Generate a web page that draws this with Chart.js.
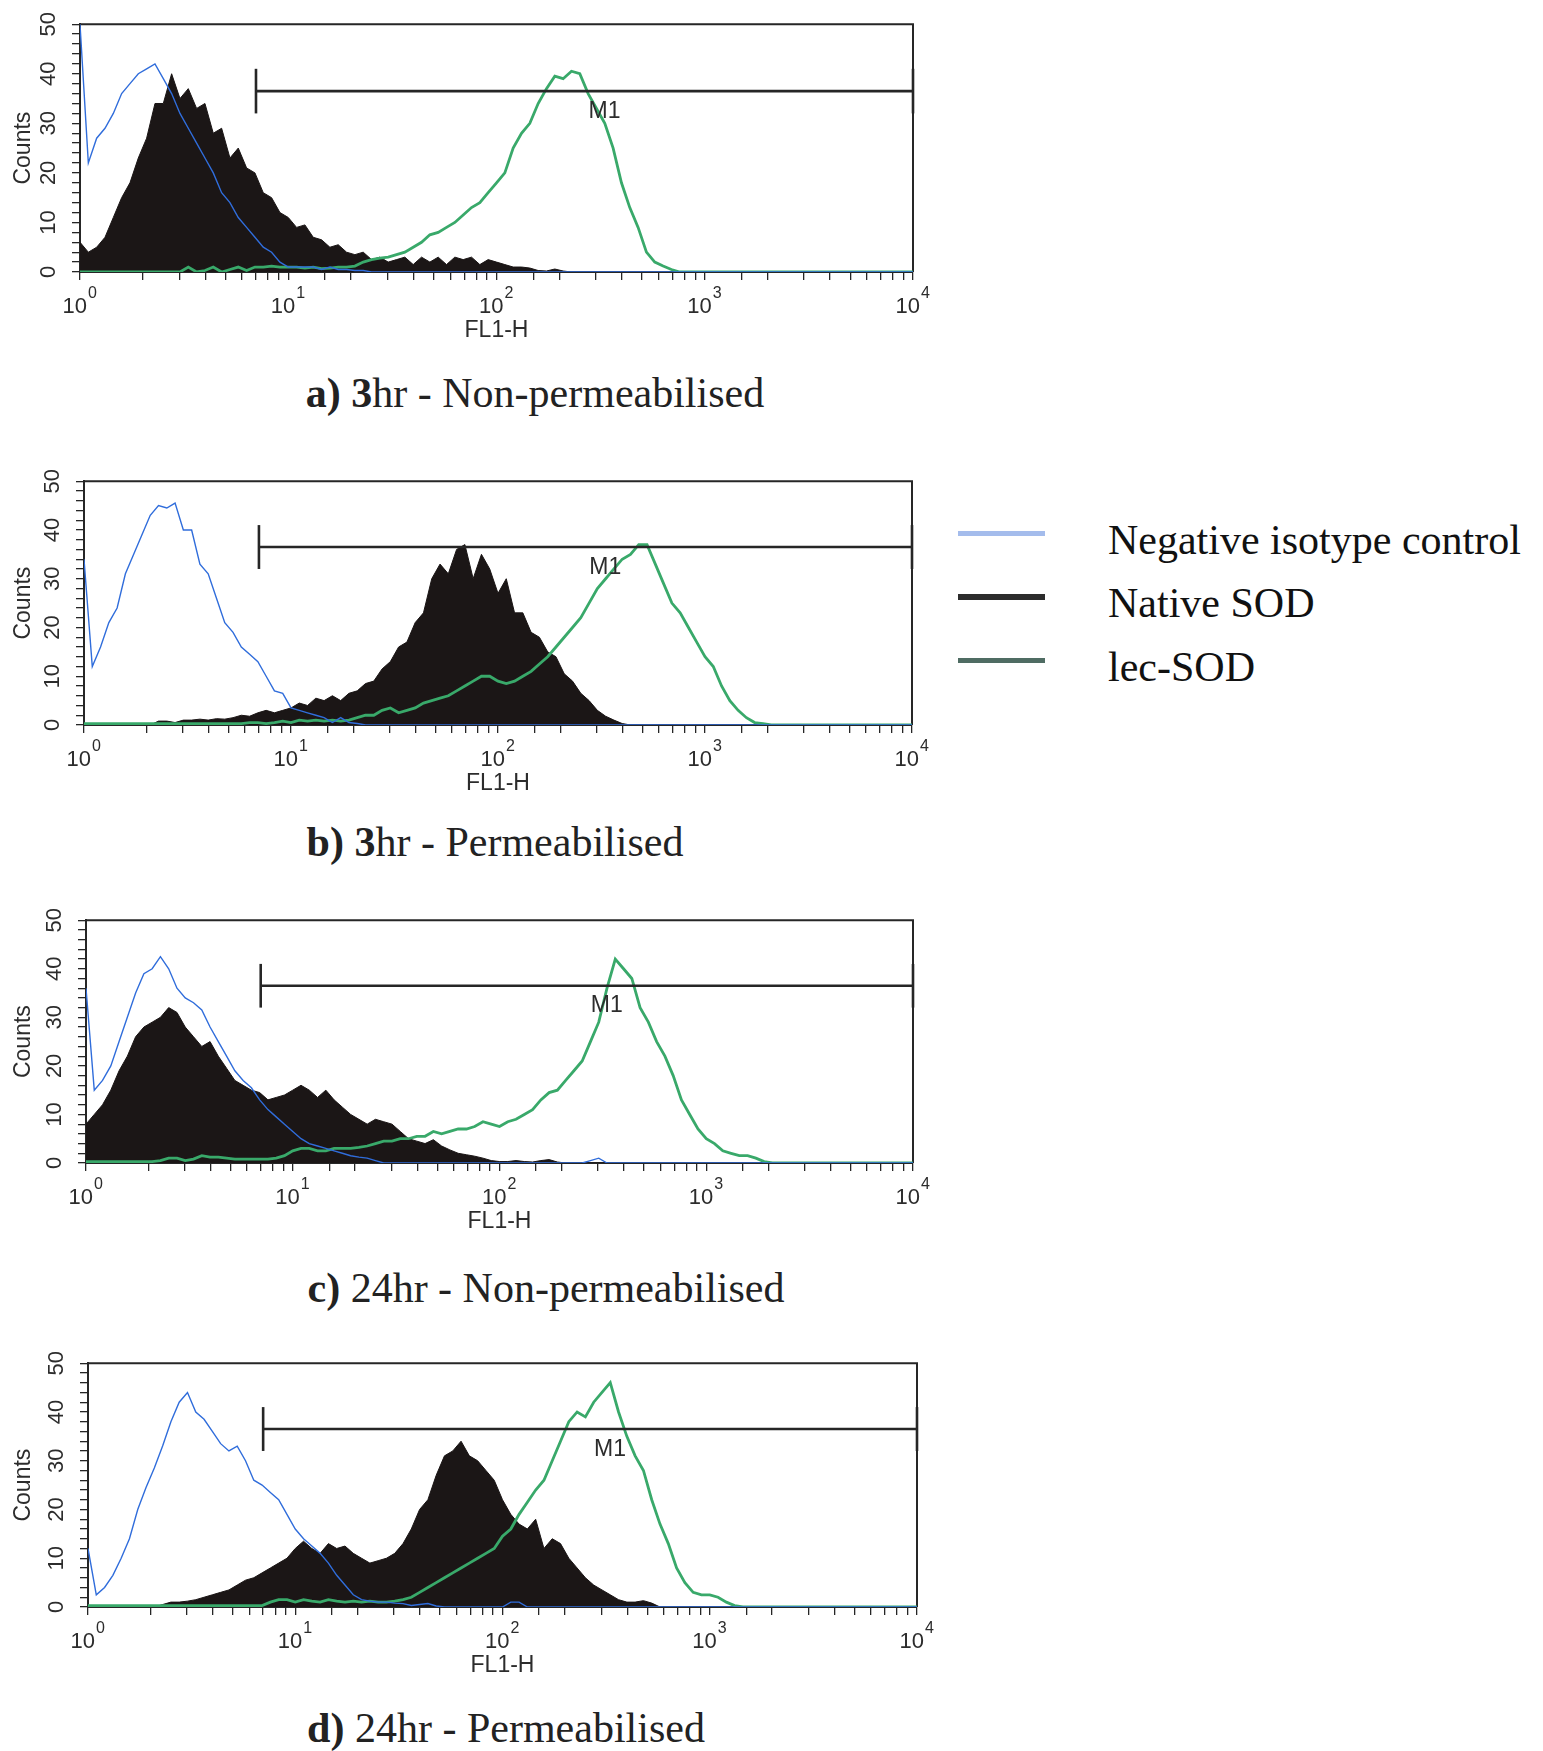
<!DOCTYPE html>
<html>
<head>
<meta charset="utf-8">
<script src="https://cdn.jsdelivr.net/npm/chart.js@4.4.1/dist/chart.umd.min.js"></script>
<style>
html,body{margin:0;padding:0;background:#fff;}
body{width:1543px;height:1751px;position:relative;overflow:hidden;}
canvas.panel{position:absolute;left:0;}
.caption{position:absolute;font-family:'Liberation Serif','Times New Roman',serif;font-size:42px;color:#222;white-space:nowrap;transform:translate(-50%,-50%);}
.legend-line{position:absolute;left:958px;width:87px;}
.legend-text{position:absolute;left:1108px;font-family:'Liberation Serif','Times New Roman',serif;font-size:42px;color:#111;white-space:nowrap;transform:translateY(-50%);}
</style>
</head>
<body>
<canvas id="pa" class="panel"></canvas>
<canvas id="pb" class="panel"></canvas>
<canvas id="pc" class="panel"></canvas>
<canvas id="pd" class="panel"></canvas>

<div class="caption" style="left:535px;top:393px;"><b>a) 3</b>hr - Non-permeabilised</div>
<div class="caption" style="left:495px;top:842px;"><b>b) 3</b>hr - Permeabilised</div>
<div class="caption" style="left:546px;top:1288px;"><b>c)</b> 24hr - Non-permeabilised</div>
<div class="caption" style="left:506px;top:1728px;"><b>d)</b> 24hr - Permeabilised</div>

<div class="legend-line" style="top:531px;height:5px;background:#a4bcec;"></div>
<div class="legend-line" style="top:594px;height:6px;background:#2c2c2c;"></div>
<div class="legend-line" style="top:658px;height:5px;background:#4f6c63;"></div>
<div class="legend-text" style="top:540px;">Negative isotype control</div>
<div class="legend-text" style="top:603px;">Native SOD</div>
<div class="legend-text" style="top:667px;">lec-SOD</div>

<script>
// ---------------- DATA ----------------
// FL1-H channel positions: 101 channels, 0.04 decade apart, from 10^0 to 10^4
const CHANNEL_STEP = 0.04;
const channels = Array.from({length: 101}, (_, i) => Math.pow(10, i * CHANNEL_STEP));

const xTickValues = [1, 10, 100, 1000, 10000];
const xTickExponents = ['0', '1', '2', '3', '4'];
const yTickLabels = [0, 10, 20, 30, 40, 50];
const seriesNames = ['Negative isotype control', 'Native SOD', 'lec-SOD'];

// Gate M1
const gateLow = 7, gateHigh = 10000, gateLevel = 36.5, gateTickLow = 32, gateTickHigh = 41;
const gateLabel = 'M1', gateLabelX = 330, gateLabelY = 32.3;

// a) 3hr - Non-permeabilised (counts per channel)
const aNegative = [
 50,22,27,29,32,36,38,40,41,42,39,36,32,29,26,23,20,16,14,11,9,7,5,4,2,
 1,1,1,1,0.5,1,0.5,0.5,0.3,0.3,0,0,0,0,0,0,0,0,0,0,0,0,0,0,0,
 0,0,0,0,0,0,0,0,0,0,0,0,0,0,0,0,0,0,0,0,0,0,0,0,0,
 0,0,0,0,0,0,0,0,0,0,0,0,0,0,0,0,0,0,0,0,0,0,0,0,0,
 0];
const aNative = [
 6,4,5,7,11,15,18,23,27,34,34,40,35,37,33,34,28,29,23,25,21,20,16,15,12,
 11,9,9.5,7,6.5,5,5.5,4,3.5,4,2.5,3,2,2.5,3,1.5,3,2,3,1.5,3,2.5,3,1.5,2.5,
 2,1.5,1,1,0.8,0.3,0.2,0.6,0.2,0,0,0,0,0,0,0,0,0,0,0,0,0,0,0,0,
 0,0,0,0,0,0,0,0,0,0,0,0,0,0,0,0,0,0,0,0,0,0,0,0,0,
 0];
const aLec = [
 0,0,0,0,0,0,0,0,0,0,0,0,0,1,0,0.3,1,0,0.5,1,0.3,1,1,1.2,1,
 1,1,0.8,1,0.7,0.8,1,1,1.2,2,2.5,2.8,3,3.5,4,5,6,7.5,8,9,10,11.5,13,14,16,
 18,20,25,28,30,34,37,39.5,39,40.5,40,36,33,30,25,18,13,9,4,2,1.2,0.5,0,0,0,
 0,0,0,0,0,0,0,0,0,0,0,0,0,0,0,0,0,0,0,0,0,0,0,0,0,
 0];

// b) 3hr - Permeabilised
const bNegative = [
 34,12,16,21,24,31,35,39,43,45,44.5,45.5,40,40,33,31,26,21,19,16,14.5,13,10,7,6.5,
 3.5,3,2.5,2,1.5,0.5,1.5,0.5,0.3,0,0,0,0,0,0,0,0,0,0,0,0,0,0,0,0,
 0,0,0,0,0,0,0,0,0,0,0,0,0,0,0,0,0,0,0,0,0,0,0,0,0,
 0,0,0,0,0,0,0,0,0,0,0,0,0,0,0,0,0,0,0,0,0,0,0,0,0,
 0];
const bNative = [
 0,0,0,0,0,0,0,0,0,0.8,0.8,0.5,1,1,1.2,1,1.3,1.2,1.5,2,1.8,2.5,3,2.5,3,
 3.5,4.5,4,5.5,5,6,5,6.5,7,8.5,9,11.5,13,16,17,21,23,30,33,31,36,37,30,35,32,
 27,30,23,23,19,18,15,14,10.5,9,6.5,5,3,1.8,1,0.3,0,0,0,0,0,0,0,0,0,
 0,0,0,0,0,0,0,0,0,0,0,0,0,0,0,0,0,0,0,0,0,0,0,0,0,
 0];
const bLec = [
 0.3,0.3,0.3,0.3,0.3,0.3,0.3,0.3,0.3,0.3,0.3,0.3,0.3,0.3,0.3,0.3,0.3,0.3,0.3,0.3,0.5,0.5,0.3,0.5,0.8,
 0.5,1,0.8,1,0.8,1,0.8,1,1.5,2,2,3,3.5,2.5,3,3.5,4.5,5,5.5,6,7,8,9,10,10,
 9,8.5,9,10,11,12.5,14,16,18,20,22,25,28,30,32,34,35,37,37,33,29,25,23,20,17,
 14,12,8,5,3,1.5,0.5,0.3,0,0,0,0,0,0,0,0,0,0,0,0,0,0,0,0,0,
 0];

// c) 24hr - Non-permeabilised
const cNegative = [
 36,15,17,20,25,30,35,39,40,42.5,40,36,34,33,31.5,28,25,22,19,17,15.5,13,11,9.5,8,
 6.5,5,4,3.5,3,2.5,2,1.5,1.2,1,0.5,0,0,0,0,0,0,0,0,0,0,0,0,0,0,
 0,0,0,0,0,0,0,0,0,0,0,0.5,1,0,0,0,0,0,0,0,0,0,0,0,0,
 0,0,0,0,0,0,0,0,0,0,0,0,0,0,0,0,0,0,0,0,0,0,0,0,0,
 0];
const cNative = [
 8,10,12,15,19,22,26,28,29,30,32,31,28,26,24,25,22,19.5,17,16,15,14.5,13,13.5,14,
 15,16,15,13.5,15,13,11.5,10,9,8,9,8.5,8,6.5,5,4.5,4,4.8,3.5,2.7,2,1.7,1.4,1,0.5,
 0.3,0.3,0.5,0.3,0.2,0.5,0.7,0.2,0,0,0,0,0,0,0,0,0,0,0,0,0,0,0,0,0,
 0,0,0,0,0,0,0,0,0,0,0,0,0,0,0,0,0,0,0,0,0,0,0,0,0,
 0];
const cLec = [
 0.3,0.3,0.3,0.3,0.3,0.3,0.3,0.3,0.3,0.5,1,1,0.5,0.8,1.5,1.2,1.2,1,0.8,0.8,0.8,0.8,0.8,1,1.5,
 2.5,3,3,2.5,2.5,3,3,3,3.2,3.5,4,4.5,4.5,5,5,5.5,5.5,6.5,6,6.5,7,7,7.5,8.5,8,
 7.5,8.5,9,10,11,13,14.5,15,17,19,21,25,29,36,42,40,38,32,29,25,22,18,13,10,7,
 5,4,2.5,2,1.5,1.5,1,0.3,0,0,0,0,0,0,0,0,0,0,0,0,0,0,0,0,0,
 0];

// d) 24hr - Permeabilised
const dNegative = [
 12,2.5,4,6.5,10,14,20,24.5,28.5,33,38,42,44,40,38.5,36,33.5,32,33,30,26,25,23.5,22,19,
 16,14,12.5,11,9,6.5,4.5,2.5,1.5,1.2,1,1,0.8,0.7,0.3,0.5,0.7,0.2,0,0,0,0,0,0,0,
 0,1,1,0,0,0,0,0,0,0,0,0,0,0,0,0,0,0,0,0,0,0,0,0,0,
 0,0,0,0,0,0,0,0,0,0,0,0,0,0,0,0,0,0,0,0,0,0,0,0,0,
 0];
const dNative = [
 0,0,0,0,0,0,0,0,0,0.5,1,1,1.2,1.5,2,2.5,3,3.5,4.5,5.5,6,7,8,9,10,
 12,13.5,12,11,13,12,12.5,11,10,9,9.5,10,11,13,16,20,22,27,31,32,34,31,30,28,26,
 22,19,17,16,18,12,14,13,10,8,6,4.5,3.5,2.5,1.5,1,1,1.3,0.8,0,0,0,0,0,0,
 0,0,0,0,0,0,0,0,0,0,0,0,0,0,0,0,0,0,0,0,0,0,0,0,0,
 0];
const dLec = [
 0.3,0.3,0.3,0.3,0.3,0.3,0.3,0.3,0.3,0.3,0.3,0.3,0.3,0.3,0.3,0.3,0.3,0.3,0.3,0.3,0.3,0.3,1,1.5,1.5,
 1,1.5,1.2,1,1.5,1.2,1,1.2,1,1.2,1,1,1.2,1.5,2,3,4,5,6,7,8,9,10,11,12,
 14.5,16,19,21.5,24,26,30,34,38,40,39,42,44,46,40,35,31,28,22,17,13,8,5,3,2.5,
 2.5,2,1,0.3,0,0,0,0,0,0,0,0,0,0,0,0,0,0,0,0,0,0,0,0,0,
 0];

// ---------------- DRAWING ----------------
const SANS = "'Liberation Sans', Arial, Helvetica, sans-serif";
const COLORS = {neg: '#306ddb', native: '#1b1616', lec: '#39a96a', gate: '#262626', axis: '#262626', text: '#2c2c2c'};

const boxPlugin = {
  id: 'box',
  beforeDatasetsDraw(chart) {
    const {ctx, chartArea: a} = chart;
    ctx.save();
    ctx.strokeStyle = COLORS.axis;
    ctx.lineWidth = 2;
    ctx.beginPath();
    ctx.moveTo(a.left, a.top); ctx.lineTo(a.right, a.top); ctx.lineTo(a.right, a.bottom);
    ctx.stroke();
    ctx.restore();
  }
};
const labelsPlugin = {
  id: 'labels',
  afterDraw(chart) {
    const {ctx, scales, chartArea} = chart;
    ctx.save();
    ctx.fillStyle = COLORS.text;
    // M1 gate label
    ctx.font = '23px ' + SANS;
    ctx.textAlign = 'center';
    ctx.textBaseline = 'middle';
    ctx.fillText(gateLabel, scales.x.getPixelForValue(gateLabelX), scales.y.getPixelForValue(gateLabelY));
    // decade labels 10^n
    const base = chartArea.bottom;
    ctx.textBaseline = 'alphabetic';
    xTickValues.forEach((v, i) => {
      const px = scales.x.getPixelForValue(v);
      ctx.font = '22px ' + SANS;
      ctx.textAlign = 'right';
      ctx.fillText('10', px + 7, base + 41);
      ctx.font = '16px ' + SANS;
      ctx.textAlign = 'left';
      ctx.fillText(xTickExponents[i], px + 8, base + 26);
    });
    ctx.restore();
  }
};

function toPoints(values) { return channels.map((x, i) => ({x, y: values[i]})); }

function makePanel(id, g, neg, nat, lec) {
  const W = 960;
  const top = g.T - 23;
  const H = (g.B - g.T) + 23 + 75;
  const cv = document.getElementById(id);
  cv.width = W; cv.height = H;
  cv.style.top = top + 'px';
  cv.style.width = W + 'px'; cv.style.height = H + 'px';
  const lineBase = {pointRadius: 0, tension: 0, fill: false};
  new Chart(cv, {
    type: 'line',
    data: {
      datasets: [
        {...lineBase, label: 'gate', data: [{x: gateLow, y: gateLevel}, {x: gateHigh, y: gateLevel}], borderColor: COLORS.gate, borderWidth: 2.6, clip: false},
        {...lineBase, label: 'gateL', data: [{x: gateLow, y: gateTickLow}, {x: gateLow, y: gateTickHigh}], borderColor: COLORS.gate, borderWidth: 2.6, clip: false},
        {...lineBase, label: 'gateR', data: [{x: gateHigh, y: gateTickLow}, {x: gateHigh, y: gateTickHigh}], borderColor: COLORS.gate, borderWidth: 2.6, clip: false},
        {...lineBase, label: seriesNames[0], data: toPoints(neg), borderColor: COLORS.neg, borderWidth: 1.4},
        {...lineBase, label: seriesNames[2], data: toPoints(lec), borderColor: COLORS.lec, borderWidth: 2.8},
        {...lineBase, label: seriesNames[1], data: toPoints(nat), borderColor: COLORS.native, backgroundColor: COLORS.native, borderWidth: 1, fill: 'origin'}
      ]
    },
    options: {
      responsive: false, animation: false, devicePixelRatio: 1,
      layout: {padding: {top: 23, right: W - g.R, left: 0, bottom: 0}},
      plugins: {legend: {display: false}, tooltip: {enabled: false}},
      scales: {
        x: {
          type: 'logarithmic', min: 1, max: 10000,
          afterFit: s => { s.height = 75; },
          border: {display: true, color: COLORS.axis, width: 2},
          grid: {drawOnChartArea: false, drawTicks: true, tickLength: 8, color: COLORS.axis, lineWidth: 1.3},
          ticks: {autoSkip: false, maxRotation: 0, minRotation: 0, display: false},
          title: {display: true, text: 'FL1-H', color: COLORS.text, font: {family: SANS, size: 23}, padding: {top: 0, bottom: 3}}
        },
        y: {
          type: 'linear', min: yTickLabels[0], max: yTickLabels[yTickLabels.length - 1],
          afterFit: s => { s.width = g.L; },
          border: {display: true, color: COLORS.axis, width: 2},
          grid: {drawOnChartArea: false, drawTicks: true, tickLength: 8, color: COLORS.axis, lineWidth: 1.3},
          ticks: {
            stepSize: 2, autoSkip: false, minRotation: 90, maxRotation: 90, crossAlign: 'center', padding: 11,
            color: COLORS.text, font: {family: SANS, size: 22},
            callback: v => yTickLabels.includes(v) ? String(v) : ''
          },
          title: {display: true, text: 'Counts', color: COLORS.text, font: {family: SANS, size: 23}, padding: {top: 10, bottom: 0}}
        }
      }
    },
    plugins: [boxPlugin, labelsPlugin]
  });
}

makePanel('pa', {L: 80, R: 913, T: 23, B: 272}, aNegative, aNative, aLec);
makePanel('pb', {L: 84, R: 912, T: 480, B: 725}, bNegative, bNative, bLec);
makePanel('pc', {L: 86, R: 913, T: 919, B: 1163}, cNegative, cNative, cLec);
makePanel('pd', {L: 88, R: 917, T: 1362, B: 1607}, dNegative, dNative, dLec);
</script>
</body>
</html>
